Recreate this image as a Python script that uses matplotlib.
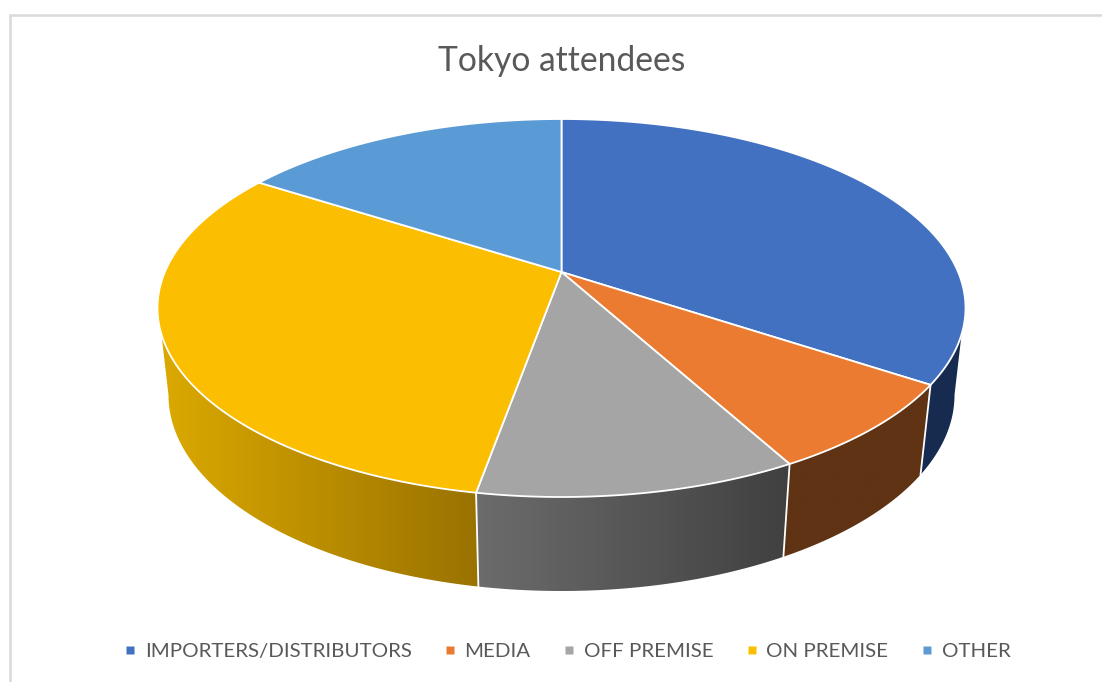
import numpy as np
import matplotlib
matplotlib.use('Agg')
import matplotlib.pyplot as plt
from matplotlib.colors import LinearSegmentedColormap
from matplotlib.lines import Line2D
from matplotlib.patches import Polygon

# Shares of attendees (percent)
categories = ['IMPORTERS/DISTRIBUTORS', 'MEDIA', 'OFF PREMISE', 'ON PREMISE', 'OTHER']
shares = [34.35, 7.7, 10.75, 31.3, 15.9]
top_colors = ['#4371C1', '#EB7B30', '#A5A5A5', '#FBBE00', '#5B9BD5']
side_left = ['#172B50', '#5F3314', '#6C6C6C', '#DBA900', '#2A4A80']
side_right = ['#172B50', '#5F3314', '#404040', '#9A7200', '#2A4A80']

# Pie geometry, in pixels of the output image
cx = 561.5
top_cy, top_rx, top_ry = 308, 404, 189
bot_cy, bot_rx, bot_ry = 395, 393, 196
apex_y = 272
wall_top = (98, 262)
wall_bot = (90, 270)
d = (top_cy - apex_y) / top_ry


def to_param(theta):
    # true pie angle (deg, clockwise from 12 o'clock) -> ellipse angle, with perspective
    th = np.radians(theta)
    x = np.sin(th) * np.sqrt(1 - d ** 2) / (1 + d * np.cos(th))
    y = (np.cos(th) + d) / (1 + d * np.cos(th))
    return np.degrees(np.arctan2(x, y)) % 360


def rim(t, cy, rx, ry):
    r = np.radians(t)
    return np.column_stack([cx + rx * np.sin(r), cy - ry * np.cos(r)])


fig = plt.figure(figsize=(11.02, 6.82), dpi=100)
ax = fig.add_axes([0, 0, 1, 1])
ax.axis('off')

# Chart frame, cut off by the screenshot on the right and bottom
ax.plot([9.5, 9.5, 1102], [682, 14.5, 14.5], color='#D9D9D9', lw=1.8, solid_joinstyle='miter')

edges = np.concatenate([[0], np.cumsum(shares)]) / sum(shares) * 360

for i in range(len(shares)):
    t1 = to_param(edges[i]) if edges[i] > 0 else 0
    t2 = to_param(edges[i + 1]) if edges[i + 1] < 359.99 else 360
    if t2 <= t1:
        t2 += 360

    # Outer wall, only where it faces the viewer
    a_top, b_top = max(t1, wall_top[0]), min(t2, wall_top[1])
    a_bot, b_bot = max(t1, wall_bot[0]), min(t2, wall_bot[1])
    if b_top > a_top:
        upper = rim(np.linspace(a_top, b_top, 120), top_cy, top_rx, top_ry)
        lower = rim(np.linspace(b_bot, a_bot, 120), bot_cy, bot_rx, bot_ry)
        pts = np.vstack([upper, lower])
        wall = Polygon(pts, closed=True, facecolor='none', edgecolor='none')
        ax.add_patch(wall)
        # colours run left to right along the wall
        cmap = LinearSegmentedColormap.from_list('wall', [side_left[i], side_right[i]])
        grad = np.linspace(0, 1, 256).reshape(1, -1)
        x0, x1 = pts[:, 0].min(), pts[:, 0].max()
        y0, y1 = pts[:, 1].min(), pts[:, 1].max()
        im = ax.imshow(grad, cmap=cmap, extent=[x0, x1, y1, y0], aspect='auto', zorder=2, interpolation='bilinear')
        im.set_clip_path(wall)
        # white seam where this wall starts
        if a_top == t1:
            p = rim(t1, top_cy, top_rx, top_ry)[0]
            q = rim(t1, bot_cy, bot_rx, bot_ry)[0]
            ax.plot([p[0], q[0]], [p[1], q[1]], color='white', lw=1.3, zorder=3)

    # Top face
    arc = rim(np.linspace(t1, t2, 200), top_cy, top_rx, top_ry)
    face = np.vstack([[cx, apex_y], arc])
    ax.add_patch(Polygon(face, closed=True, facecolor=top_colors[i], edgecolor='white', lw=1.3, zorder=4))

ax.set_xlim(0, 1102)
ax.set_ylim(682, 0)

ax.text(cx, 61, 'Tokyo attendees', ha='center', va='center', fontsize=24.2, color='#595959', family='Lato')

handles = [Line2D([], [], linestyle='none', marker='s', markersize=5.3, markerfacecolor=c, markeredgecolor='none')
           for c in top_colors]
ax.legend(handles, categories, ncol=5, loc='center', bbox_to_anchor=(567, 651), bbox_transform=ax.transData,
          frameon=False, handlelength=0.6, handletextpad=0.42, columnspacing=1.57, borderpad=0,
          prop={'family': 'Lato', 'size': 14.75}, labelcolor='#595959')

plt.savefig('out.png', dpi=100)
